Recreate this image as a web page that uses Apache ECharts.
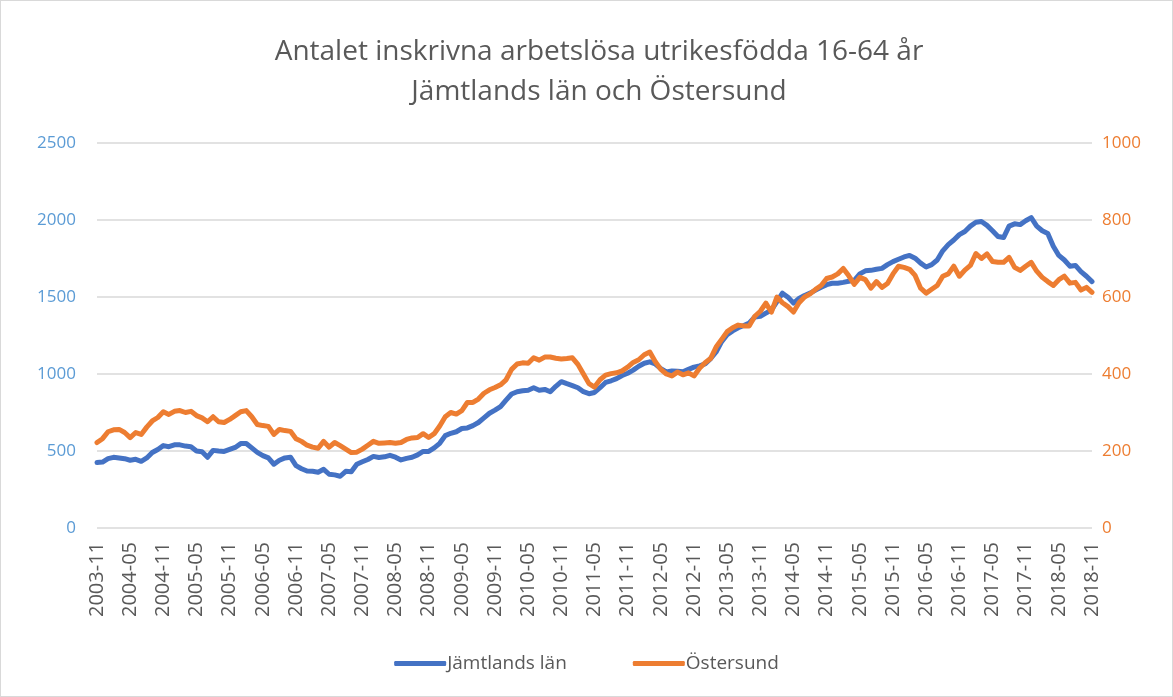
<!DOCTYPE html>
<html>
<head>
<meta charset="utf-8">
<script src="https://cdn.jsdelivr.net/npm/echarts@6/dist/echarts.min.js"></script>
<style>
  html, body { margin: 0; padding: 0; background: #fff; }
  #chart { width: 1171px; height: 695px; border: 1px solid #d9d9d9; }
</style>
</head>
<body>
<div id="chart"></div>
<script>
// Months from 2003-11 to 2018-11
const startYear = 2003, startMonth = 11, monthCount = 181;
const months = [];
for (let k = 0; k < monthCount; k++) {
  const m0 = startMonth - 1 + k;
  const y = startYear + Math.floor(m0 / 12);
  const m = (m0 % 12) + 1;
  months.push(y + '-' + (m < 10 ? '0' + m : m));
}

const seriesNames = ['Jämtlands län', 'Östersund'];

// Jämtlands län (left axis)
const jamtland = [
  425, 428, 450, 459, 455, 450, 440, 446, 433, 455, 490, 510, 535, 528, 540, 540,
  532, 528, 500, 495, 459, 504, 500, 497, 510, 523, 548, 549, 520, 491, 470, 455,
  414, 440, 455, 460, 405, 385, 370, 368, 362, 381, 349, 345, 336, 368, 365, 414,
  430, 445, 465, 458, 462, 472, 460, 442, 452, 459, 475, 497, 497, 520, 550, 600,
  615, 625, 646, 650, 665, 685, 715, 745, 765, 788, 830, 870, 885, 891, 895, 911,
  895, 900, 885, 920, 950, 937, 925, 911, 885, 872, 880, 911, 945, 956, 970, 990,
  1005, 1025, 1050, 1070, 1079, 1065, 1035, 1014, 1020, 1018, 1014, 1030, 1045, 1053, 1065, 1100,
  1143, 1210, 1255, 1280, 1300, 1315, 1331, 1370, 1375, 1395, 1415, 1470, 1525, 1499, 1460, 1490,
  1510, 1525, 1545, 1563, 1580, 1589, 1589, 1595, 1602, 1608, 1650, 1670, 1673, 1680, 1686, 1710,
  1730, 1745, 1760, 1770, 1752, 1720, 1695, 1710, 1740, 1800, 1840, 1870, 1905, 1925, 1960, 1985,
  1990, 1965, 1930, 1893, 1886, 1960, 1975, 1970, 1995, 2015, 1960, 1930, 1912, 1830, 1770, 1740,
  1700, 1705, 1665, 1635, 1600
];

// Östersund (right axis)
const ostersund = [
  222, 232, 250, 255, 256, 248, 235, 248, 243, 262, 278, 287, 302, 295, 303, 305,
  300, 303, 292, 286, 276, 289, 276, 274, 282, 292, 302, 305, 289, 269, 266, 264,
  243, 256, 253, 251, 232, 225, 215, 210, 207, 225, 210, 222, 214, 205, 196, 197,
  205, 215, 225, 220, 221, 222, 220, 222, 230, 234, 235, 245, 235, 245, 265, 289,
  300, 296, 305, 326, 326, 335, 350, 359, 365, 372, 385, 412, 426, 429, 428, 442,
  436, 444, 444, 441, 439, 440, 442, 425, 400, 375, 366, 385, 397, 401, 403, 408,
  418, 430, 437, 450, 457, 432, 412, 400, 395, 405, 398, 403, 395, 415, 429, 440,
  470, 490, 510, 520, 527, 525, 525, 550, 563, 584, 561, 600, 585, 575, 561, 585,
  600, 608, 620, 630, 648, 652, 660, 674, 655, 633, 651, 645, 623, 640, 625, 635,
  660, 680, 677, 672, 656, 623, 610, 620, 630, 654, 660, 680, 654, 670, 682, 713,
  700, 712, 692, 690, 690, 703, 677, 669, 680, 690, 667, 651, 640, 630, 645, 654,
  636, 638, 618, 625, 612
];

const leftTicks = { min: 0, max: 2500, interval: 500 };
const rightTicks = { min: 0, max: 1000, interval: 200 };

const textGray = '#595959';
const blue = '#4472c4';
const orange = '#ed7d31';
const font = 'Open Sans, Liberation Sans, sans-serif';
const plainNumber = v => String(v);

const chart = echarts.init(document.getElementById('chart'), null, { renderer: 'canvas' });
chart.setOption({
  animation: false,
  backgroundColor: '#ffffff',
  textStyle: { fontFamily: font },
  title: {
    text: 'Antalet inskrivna arbetslösa utrikesfödda 16-64 år\nJämtlands län och Östersund',
    left: 593,
    textAlign: 'center',
    top: 26,
    textStyle: {
      color: textGray,
      fontFamily: font,
      fontWeight: 'normal',
      fontSize: 28,
      lineHeight: 40
    }
  },
  legend: {
    bottom: 18,
    left: 'center',
    itemWidth: 52,
    itemHeight: 5,
    itemGap: 66,
    icon: 'roundRect',
    textStyle: { color: textGray, fontSize: 19, fontFamily: font, padding: [0, 0, 0, -4] },
    data: seriesNames
  },
  grid: { left: 96, right: 80, top: 142, bottom: 168, containLabel: false },
  xAxis: {
    type: 'category',
    data: months,
    boundaryGap: false,
    axisLine: { show: false },
    axisTick: { show: false },
    axisLabel: {
      rotate: 90,
      interval: 5,
      margin: 14,
      color: textGray,
      fontSize: 20,
      fontFamily: font
    },
    splitLine: { show: false }
  },
  yAxis: [
    {
      type: 'value',
      min: leftTicks.min, max: leftTicks.max, interval: leftTicks.interval,
      axisLine: { show: false },
      axisTick: { show: false },
      axisLabel: { color: '#5b9bd5', fontSize: 17, margin: 21, fontFamily: font, formatter: plainNumber },
      splitLine: { lineStyle: { color: '#d9d9d9', width: 1.5 } }
    },
    {
      type: 'value',
      min: rightTicks.min, max: rightTicks.max, interval: rightTicks.interval,
      position: 'right',
      axisLine: { show: false },
      axisTick: { show: false },
      axisLabel: { color: orange, fontSize: 17, margin: 10, fontFamily: font, formatter: plainNumber },
      splitLine: { show: false }
    }
  ],
  series: [
    {
      name: seriesNames[0],
      type: 'line',
      yAxisIndex: 0,
      data: jamtland,
      showSymbol: false,
      symbol: 'none',
      color: blue,
      lineStyle: { color: blue, width: 5, cap: 'round', join: 'round' }
    },
    {
      name: seriesNames[1],
      type: 'line',
      yAxisIndex: 1,
      data: ostersund,
      showSymbol: false,
      symbol: 'none',
      color: orange,
      lineStyle: { color: orange, width: 5, cap: 'round', join: 'round' }
    }
  ]
});
</script>
</body>
</html>
